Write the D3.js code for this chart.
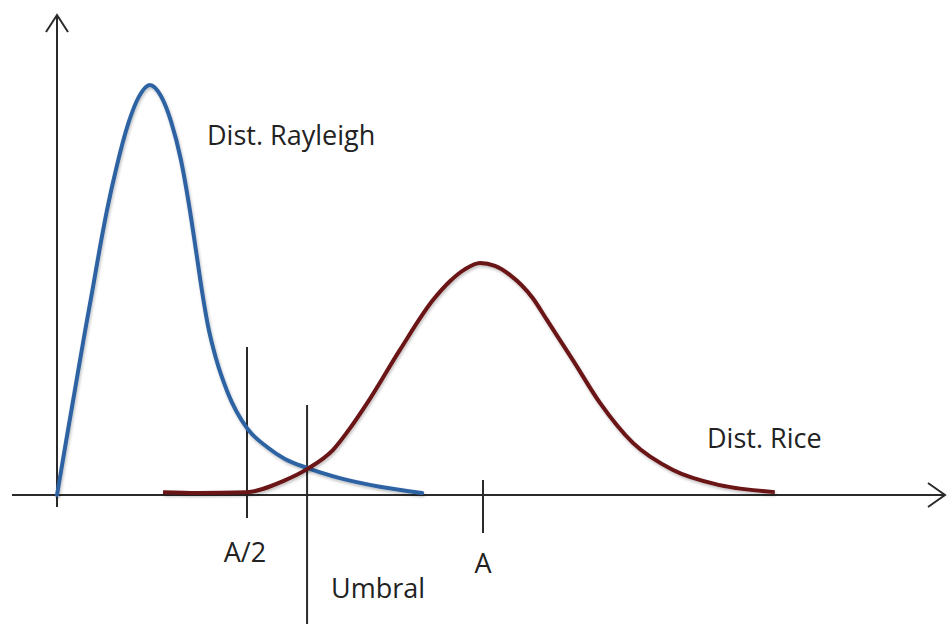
<!DOCTYPE html>
<html>
<head>
<meta charset="utf-8">
<script src="https://cdn.jsdelivr.net/npm/d3@7"></script>
<style>
  html, body { margin: 0; padding: 0; background: #fff; }
  svg { display: block; }
  text { font-family: "Open Sans", Lato, sans-serif; fill: #222; }
</style>
</head>
<body>
<svg id="chart" width="949" height="624"></svg>
<script>
// ---- data (x: A = 100, y: Rayleigh peak = 100) ----
const rayleighX = [0.0, 2.1, 4.2, 6.3, 8.5, 10.1, 11.7, 14.1, 16.7, 19.2, 21.8, 24.4, 26.8, 29.1, 31.0, 32.6, 34.0, 35.4, 37.3, 40.1, 44.6, 49.3, 53.5, 58.7, 66.4, 75.8, 85.7];
const rayleighY = [0, 12.9, 25.6, 38.3, 51.0, 60.5, 69.3, 80.5, 90.5, 97.1, 100, 97.3, 91.0, 81.7, 70.7, 59.8, 50.0, 41.5, 33.4, 24.9, 16.3, 11.7, 8.8, 6.6, 4.1, 2.0, 0.5];
const riceX = [24.9, 32.9, 44.6, 53.1, 58.7, 64.8, 68.8, 72.8, 80.5, 88.3, 92.3, 95.8, 99.3, 102.8, 106.3, 111.7, 115.0, 121.1, 127.5, 135.2, 144.6, 155.6, 168.5];
const riceY = [0.7, 0.5, 0.7, 3.4, 6.3, 11.0, 16.3, 22.4, 35.4, 47.6, 52.2, 55.1, 56.6, 55.9, 53.7, 48.0, 42.7, 32.9, 22.4, 12.7, 6.1, 2.4, 0.7];
const markerLabels = ["A/2", "Umbral", "A"];
const markerX = [44.6, 58.7, 100];
const seriesLabels = ["Dist. Rayleigh", "Dist. Rice"];

const svg = d3.select("#chart");
const x = d3.scaleLinear().domain([0, 100]).range([57, 483]);
const y = d3.scaleLinear().domain([0, 100]).range([495, 85]);

const axisColor = "#2a2a2a";

// soft drop shadow as in reference
const defs = svg.append("defs");
const f = defs.append("filter").attr("id", "sh").attr("x", "-10%").attr("y", "-10%").attr("width", "120%").attr("height", "130%");
f.append("feGaussianBlur").attr("in", "SourceAlpha").attr("stdDeviation", 1.5).attr("result", "b");
f.append("feOffset").attr("in", "b").attr("dx", 1).attr("dy", 2).attr("result", "o");
f.append("feComponentTransfer").attr("in", "o").attr("result", "o2")
  .append("feFuncA").attr("type", "linear").attr("slope", 0.25);
const m = f.append("feMerge");
m.append("feMergeNode").attr("in", "o2");
m.append("feMergeNode").attr("in", "SourceGraphic");

// axes
const xMin = x.invert(12), xMax = x.invert(945);
const yMin = y.invert(507), yMax = y.invert(15);
svg.append("line").attr("x1", x(xMin)).attr("x2", x(xMax)).attr("y1", y(0)).attr("y2", y(0))
  .attr("stroke", axisColor).attr("stroke-width", 2);
svg.append("line").attr("x1", x(0)).attr("x2", x(0)).attr("y1", y(yMin)).attr("y2", y(yMax))
  .attr("stroke", axisColor).attr("stroke-width", 2);
svg.append("path").attr("d", `M${x(xMax) - 17},${y(0) - 12} L${x(xMax)},${y(0)} L${x(xMax) - 17},${y(0) + 12}`)
  .attr("fill", "none").attr("stroke", axisColor).attr("stroke-width", 2);
svg.append("path").attr("d", `M${x(0) - 11},${y(yMax) + 17} L${x(0)},${y(yMax)} L${x(0) + 11},${y(yMax) + 17}`)
  .attr("fill", "none").attr("stroke", axisColor).attr("stroke-width", 2);

// vertical marker lines
const markerTop = [y.invert(347), y.invert(405), y.invert(480)];
const markerBot = [y.invert(518), y.invert(624), y.invert(533)];
markerX.forEach((mx, i) => {
  svg.append("line").attr("x1", x(mx)).attr("x2", x(mx))
    .attr("y1", y(markerTop[i])).attr("y2", y(markerBot[i]))
    .attr("stroke", axisColor).attr("stroke-width", 2);
});

// curves
const line = d3.line().x(d => x(d[0])).y(d => y(d[1])).curve(d3.curveMonotoneX);
const ray = rayleighX.map((v, i) => [v, rayleighY[i]]);
const rice = riceX.map((v, i) => [v, riceY[i]]);
svg.append("path").datum(ray).attr("d", line).attr("fill", "none")
  .attr("stroke", "#2f63a3").attr("stroke-width", 4).attr("stroke-linecap", "round").attr("filter", "url(#sh)");
svg.append("path").datum(rice).attr("d", line).attr("fill", "none")
  .attr("stroke", "#6b1214").attr("stroke-width", 4).attr("stroke-linecap", "butt").attr("filter", "url(#sh)");

// labels
const fs = 27;
svg.append("text").attr("x", 207).attr("y", 145).attr("font-size", fs).text(seriesLabels[0]);
svg.append("text").attr("x", 707).attr("y", 448).attr("font-size", fs).text(seriesLabels[1]);
svg.append("text").attr("x", x(markerX[0]) - 2).attr("y", 562).attr("font-size", fs).attr("text-anchor", "middle").text(markerLabels[0]);
svg.append("text").attr("x", 331).attr("y", 598).attr("font-size", fs).text(markerLabels[1]);
svg.append("text").attr("x", x(markerX[2])).attr("y", 573).attr("font-size", fs).attr("text-anchor", "middle").text(markerLabels[2]);
</script>
</body>
</html>
